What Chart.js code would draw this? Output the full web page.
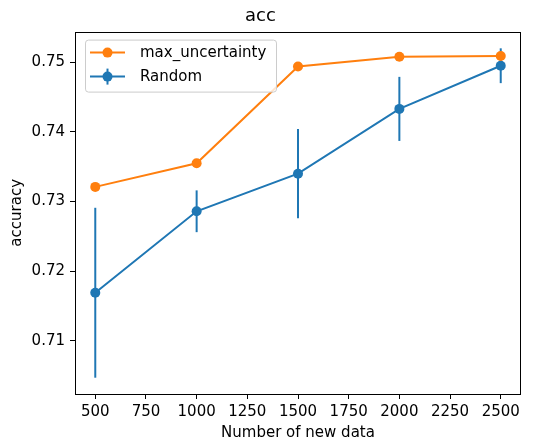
<!DOCTYPE html>
<html>
<head>
<meta charset="utf-8">
<script src="https://cdn.jsdelivr.net/npm/chart.js@4"></script>
<style>
  html, body { margin: 0; padding: 0; background: #fff; }
  #wrap { width: 535px; height: 440px; }
</style>
</head>
<body>
<div id="wrap"><canvas id="chart" width="535" height="440"></canvas></div>
<script>
// values
const sizes = [500, 1000, 1500, 2000, 2500];
const maxUncertainty = [0.7321, 0.7355, 0.7494, 0.7508, 0.7509];
const randomMean = [0.7169, 0.7286, 0.7340, 0.7433, 0.7495];
const randomErr = [0.0122, 0.0030, 0.0064, 0.0046, 0.0025];
const xTicks = [500, 750, 1000, 1250, 1500, 1750, 2000, 2250, 2500];
const yTicks = [0.71, 0.72, 0.73, 0.74, 0.75];

const BLUE = '#1f77b4';
const ORANGE = '#ff7f0e';
const FONT = 'DejaVu Sans';

// vertical error bars for the Random series, placed through the scales
const errorBars = {
  id: 'errorBars',
  beforeDatasetsDraw(chart) {
    const ctx = chart.ctx;
    const x = chart.scales.x, y = chart.scales.y;
    ctx.save();
    ctx.strokeStyle = BLUE;
    ctx.lineWidth = 2;
    sizes.forEach((s, i) => {
      const px = x.getPixelForValue(s);
      ctx.beginPath();
      ctx.moveTo(px, y.getPixelForValue(randomMean[i] - randomErr[i]));
      ctx.lineTo(px, y.getPixelForValue(randomMean[i] + randomErr[i]));
      ctx.stroke();
    });
    ctx.restore();
  }
};

// matplotlib-like frame and legend box
const frameAndLegend = {
  id: 'frameAndLegend',
  afterDraw(chart) {
    const ctx = chart.ctx;
    const a = chart.chartArea;
    ctx.save();
    ctx.strokeStyle = '#000';
    ctx.lineWidth = 1;
    ctx.strokeRect(Math.round(a.left) + 0.5, Math.round(a.top) + 0.5,
      Math.round(a.right - a.left) - 1, Math.round(a.bottom - a.top));

    // legend
    const lx = a.left + 10, ly = a.top + 8, lw = 191, lh = 52;
    ctx.fillStyle = 'rgba(255,255,255,0.8)';
    ctx.strokeStyle = '#cccccc';
    ctx.beginPath();
    ctx.roundRect(lx + 0.5, ly + 0.5, lw, lh, 3);
    ctx.fill();
    ctx.stroke();

    const items = chart.data.datasets;
    ctx.font = '15px "' + FONT + '"';
    ctx.textBaseline = 'middle';
    items.forEach((ds, i) => {
      const cy = ly + 13 + i * 24;
      const x0 = lx + 5, x1 = lx + 40, xm = (x0 + x1) / 2;
      ctx.strokeStyle = ds.borderColor;
      ctx.lineWidth = 2;
      ctx.beginPath();
      ctx.moveTo(x0, cy); ctx.lineTo(x1, cy);
      ctx.stroke();
      if (ds.label === 'Random') {
        ctx.beginPath();
        ctx.moveTo(xm, cy - 8); ctx.lineTo(xm, cy + 8);
        ctx.stroke();
      }
      ctx.fillStyle = ds.borderColor;
      ctx.beginPath();
      ctx.arc(xm, cy, 5, 0, Math.PI * 2);
      ctx.fill();
      ctx.fillStyle = '#000';
      ctx.fillText(ds.label, lx + 55, cy + 1);
    });
    ctx.restore();
  }
};

new Chart(document.getElementById('chart'), {
  type: 'line',
  data: {
    datasets: [
      {
        label: 'max_uncertainty',
        data: sizes.map((s, i) => ({ x: s, y: maxUncertainty[i] })),
        borderColor: ORANGE,
        backgroundColor: ORANGE,
        borderWidth: 2,
        pointRadius: 5,
        pointHoverRadius: 5,
        pointBorderWidth: 0,
        tension: 0,
        order: 0
      },
      {
        label: 'Random',
        data: sizes.map((s, i) => ({ x: s, y: randomMean[i] })),
        borderColor: BLUE,
        backgroundColor: BLUE,
        borderWidth: 2,
        pointRadius: 5,
        pointHoverRadius: 5,
        pointBorderWidth: 0,
        tension: 0,
        order: 1
      }
    ]
  },
  options: {
    responsive: false,
    animation: false,
    events: [],
    layout: { padding: { left: 0, right: 14, top: 0, bottom: 0 } },
    plugins: {
      legend: { display: false },
      tooltip: { enabled: false },
      title: {
        display: true,
        text: 'acc',
        color: '#000',
        font: { family: FONT, size: 18, weight: 'normal' },
        padding: { top: 6, bottom: 4 }
      }
    },
    scales: {
      x: {
        type: 'linear',
        min: 400,
        max: 2600,
        afterBuildTicks: axis => { axis.ticks = xTicks.map(v => ({ value: v })); },
        afterFit: axis => { axis.height = 46; },
        grid: { drawOnChartArea: false, drawTicks: true, tickLength: 5, color: '#000' },
        border: { display: false },
        ticks: {
          color: '#000',
          padding: 4,
          maxRotation: 0,
          autoSkip: false,
          font: { family: FONT, size: 15 },
          callback: v => String(v)
        },
        title: {
          display: true,
          text: 'Number of new data',
          color: '#000',
          font: { family: FONT, size: 15 },
          padding: { top: 0, bottom: -2 }
        }
      },
      y: {
        type: 'linear',
        min: 0.70236,
        max: 0.7544,
        afterBuildTicks: axis => { axis.ticks = yTicks.map(v => ({ value: v })); },
        afterFit: axis => { axis.width = 75; },
        grid: { drawOnChartArea: false, drawTicks: true, tickLength: 5, color: '#000' },
        border: { display: false },
        ticks: {
          color: '#000',
          padding: 5,
          autoSkip: false,
          font: { family: FONT, size: 15 },
          callback: v => v.toFixed(2)
        },
        title: {
          display: true,
          text: 'accuracy',
          color: '#000',
          font: { family: FONT, size: 15 },
          padding: { top: 8, bottom: 0 }
        }
      }
    }
  },
  plugins: [errorBars, frameAndLegend]
});
</script>
</body>
</html>
